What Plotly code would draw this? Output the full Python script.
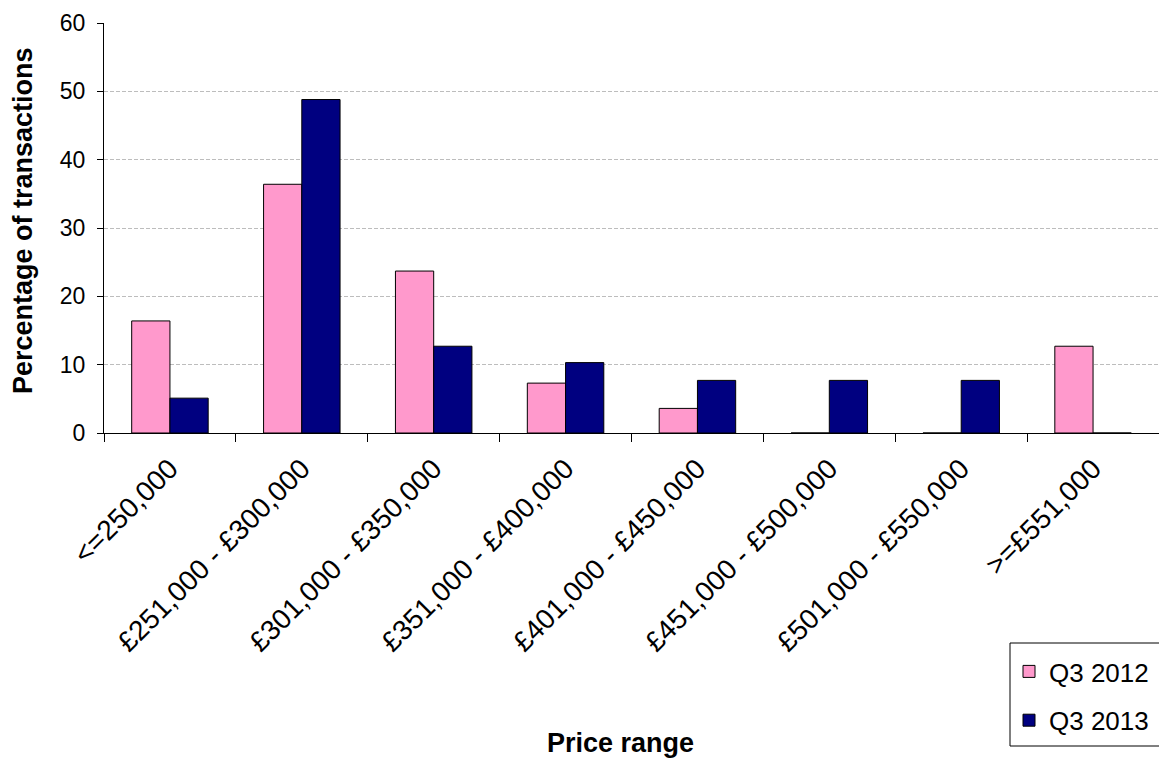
import plotly.graph_objects as go

# Share of transactions by price band, Q3 2012 vs Q3 2013
price_ranges = [
    "<=250,000",
    "£251,000 - £300,000",
    "£301,000 - £350,000",
    "£351,000 - £400,000",
    "£401,000 - £450,000",
    "£451,000 - £500,000",
    "£501,000 - £550,000",
    ">=£551,000",
]
q3_2012 = [16.4, 36.4, 23.7, 7.3, 3.6, 0, 0, 12.7]
q3_2013 = [5.1, 48.8, 12.7, 10.3, 7.7, 7.7, 7.7, 0]
y_ticks = [0, 10, 20, 30, 40, 50, 60]

FONT = "Liberation Sans, Arial, sans-serif"
W, H = 1159, 758
L, R, T, B = 104, 0, 23, 325
plot_w = W - L - R
plot_h = H - T - B


def px_x(x):
    return (x - L) / plot_w


def px_y(y):
    return (H - B - y) / plot_h


fig = go.Figure()
fig.add_trace(go.Bar(
    x=price_ranges, y=q3_2012, name="Q3 2012", legendgroup="a",
    marker=dict(color="#FF99CC", line=dict(color="#000000", width=1)),
))
fig.add_trace(go.Bar(
    x=price_ranges, y=q3_2013, name="Q3 2013", legendgroup="b",
    marker=dict(color="#000080", line=dict(color="#000000", width=1)),
))

fig.update_layout(
    width=W, height=H,
    margin=dict(l=L, r=R, t=T, b=B, pad=0),
    paper_bgcolor="white", plot_bgcolor="white",
    barmode="group", bargap=0.42, bargroupgap=0,
    font=dict(family=FONT, color="#000000"),
    showlegend=True,
    legend=dict(
        x=px_x(1009), y=px_y(648), xanchor="left", yanchor="top",
        font=dict(family=FONT, size=26, color="#000000"),
        bgcolor="rgba(0,0,0,0)", borderwidth=0,
        tracegroupgap=12, traceorder="grouped",
    ),
)

fig.update_xaxes(
    type="category",
    showline=True, linecolor="#000000", linewidth=1,
    ticks="outside", tickson="boundaries", ticklen=8, tickcolor="#000000",
    tickangle=-45, ticklabelstandoff=7,
    tickfont=dict(family=FONT, size=28, color="#000000"),
    showgrid=False,
)
fig.update_yaxes(
    range=[0, 60], tickvals=y_ticks,
    showline=True, linecolor="#000000", linewidth=1,
    ticks="outside", ticklen=6, tickcolor="#000000", ticklabelstandoff=7,
    tickfont=dict(family=FONT, size=23, color="#000000"),
    showgrid=True, gridcolor="#BDBDBD", gridwidth=1, griddash="4px,2px",
    zeroline=False,
)

# Legend frame
fig.add_shape(
    type="rect", xref="paper", yref="paper",
    x0=px_x(1010), x1=px_x(1170), y0=px_y(746), y1=px_y(643),
    line=dict(color="#000000", width=1), fillcolor="white", layer="below",
)

# Axis titles
fig.add_annotation(
    text="<b>Percentage of transactions</b>", textangle=-90,
    xref="paper", yref="paper", x=px_x(23), y=px_y(221),
    xanchor="center", yanchor="middle", showarrow=False,
    font=dict(family=FONT, size=27, color="#000000"),
)
fig.add_annotation(
    text="<b>Price range</b>",
    xref="paper", yref="paper", x=px_x(620), y=px_y(743),
    xanchor="center", yanchor="middle", showarrow=False,
    font=dict(family=FONT, size=27, color="#000000"),
)

fig.write_html("out.html")
